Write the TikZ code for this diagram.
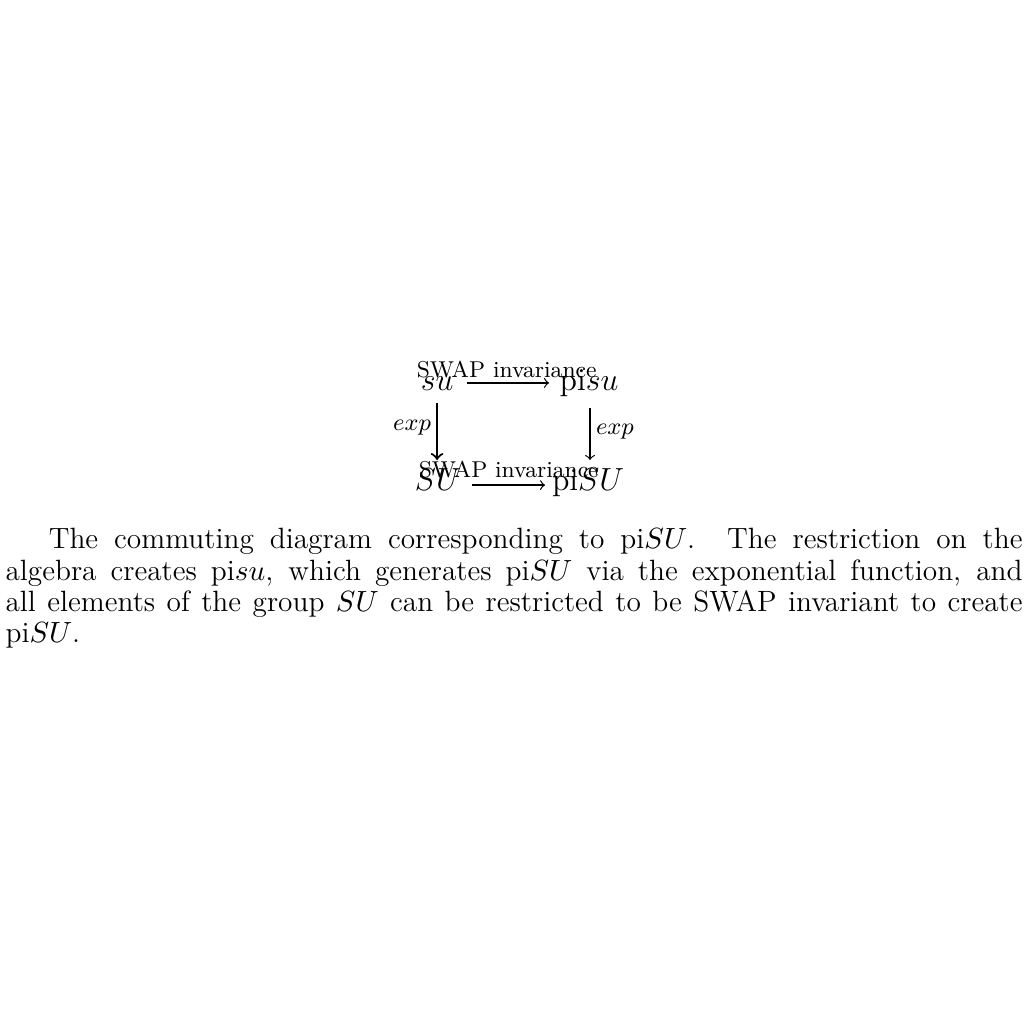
\documentclass[tikz,border=0pt]{standalone}
\usepackage{amsmath}
\hyphenpenalty=10000
\exhyphenpenalty=10000
\tolerance=9999
\begin{document}
\begin{tikzpicture}[x=1pt,y=1pt,
  obj/.style={inner sep=0pt,anchor=base,font=\fontsize{12}{14}\selectfont},
  lab/.style={inner sep=0pt,anchor=base,font=\fontsize{8.6}{10}\selectfont},
  explab/.style={inner sep=0pt,font=\fontsize{8.6}{10}\selectfont},
  arr/.style={->,line width=0.45pt}]
\useasboundingbox (0,0) rectangle (384,-384);
\node[obj] (su) at (163.9,-146.25) {$su$};
\node[obj] (pisu) at (220.9,-146.25) {pi$su$};
\node[obj] (SU) at (164.2,-183.75) {$SU$};
\node[obj] (piSU) at (220.5,-183.75) {pi$SU$};
\node[lab] (l1) at (190,-141.4) {SWAP invariance};
\node[lab] (l2) at (190.8,-178.9) {SWAP invariance};
\coordinate (a1s) at (175.1,-143.6);
\coordinate (a1e) at (205.9,-143.6);
\coordinate (a2s) at (177,-181.9);
\coordinate (a2e) at (204.4,-181.9);
\coordinate (a3s) at (163.9,-151.1);
\coordinate (a3e) at (163.9,-172.5);
\coordinate (a4s) at (221.25,-153);
\coordinate (a4e) at (221.25,-172.5);
\draw[arr] (a1s) -- (a1e);
\draw[arr] (a2s) -- (a2e);
\draw[arr,line width=0.8pt] (a3s) -- (a3e);
\draw[arr] (a4s) -- (a4e);
\node[explab] (e1) at (154.5,-160.5) {$exp$};
\node[explab] (e2) at (230.6,-162) {$exp$};
\node[inner sep=0pt,anchor=north west,text width=381.4pt,align=justify,font=\fontsize{11}{11.75}\selectfont] (cap) at (1.9,-198)
{\hspace*{16.2pt}The commuting diagram corresponding to pi$SU$.  The restriction on the algebra creates pi$su$, which generates pi$SU$ via the exponential function, and all elements of the group $SU$ can be restricted to be SWAP invariant to create pi$SU$.};
\end{tikzpicture}
\end{document}
